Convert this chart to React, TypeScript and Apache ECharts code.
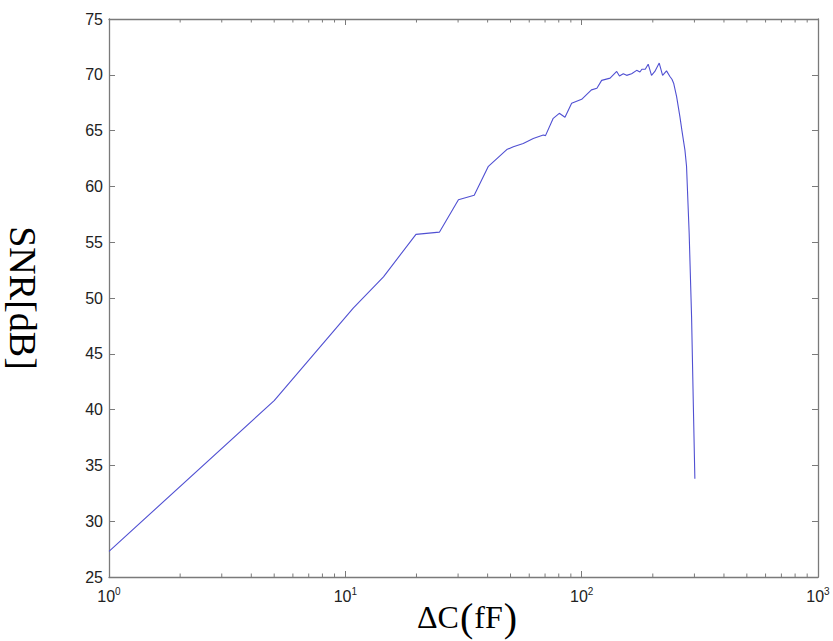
import React, { useEffect, useRef } from "react";
import * as echarts from "echarts";

const deltaC = [
  1, 5, 10.8, 14.5, 19.9, 25, 30.1, 35.1, 40.3, 48.2, 51.4, 56.6, 62.4, 68.8, 70.3,
  75.8, 80.4, 85, 90.7, 100, 110, 116, 121.5, 131.9, 140.7, 144.5, 150, 155, 162.7,
  170.9, 176.4, 179.8, 185.8, 191.2, 197.5, 204, 212.9, 220, 228.6, 236.3, 241, 245,
  252.2, 260.4, 265.4, 273.5, 277.8, 285, 291.8, 296.5, 301.3,
];
const snr = [
  27.3, 40.8, 49.1, 51.9, 55.7, 55.9, 58.8, 59.2, 61.8, 63.3, 63.55, 63.85, 64.3, 64.6, 64.55,
  66.1, 66.55, 66.2, 67.45, 67.8, 68.65, 68.8, 69.5, 69.7, 70.3, 69.9, 70.1, 69.95, 70.1,
  70.4, 70.25, 70.5, 70.5, 70.95, 69.95, 70.3, 71.05, 69.95, 70.35, 69.85, 69.6, 69.25,
  68.05, 66.25, 65.05, 63.25, 61.8, 55.8, 48.3, 40.9, 33.8,
];
const minorTicks = [2, 3, 4, 5, 6, 7, 8, 9, 20, 30, 40, 50, 60, 70, 80, 90, 200, 300, 400, 500, 600, 700, 800, 900];
const xMin = 1;
const xMax = 1000;
const yMin = 25;
const yMax = 75;
const yStep = 5;

const AXIS = "#7a7a7a";
const SERIF = "'Liberation Serif', 'Times New Roman', serif";
const SANS = "'Liberation Sans', Arial, sans-serif";

export default function App() {
  const ref = useRef<HTMLDivElement>(null);
  useEffect(() => {
    const chart = echarts.init(ref.current!, null, { renderer: "svg" });
    const lineData = deltaC.map((x, i) => [x, snr[i]]);
    chart.setOption({
      animation: false,
      backgroundColor: "#ffffff",
      grid: { left: 109, right: 15, top: 19, bottom: 64, containLabel: false, outerBoundsMode: "none" },
      xAxis: [
        {
          type: "log",
          logBase: 10,
          min: xMin,
          max: xMax,
          position: "bottom",
          name: "{t|ΔC}{p|(}{t|fF}{p|)}",
          nameLocation: "middle",
          nameGap: 20,
          nameMoveOverlap: false,
          nameTextStyle: {
            padding: [0, 0, 0, 8],
            rich: {
              t: { fontFamily: SERIF, fontSize: 32, color: "#000" },
              p: { fontFamily: SERIF, fontSize: 40, color: "#000", padding: [0, 1, 0, 1] },
            },
          },
          axisLine: { show: true, lineStyle: { color: AXIS, width: 1.3 } },
          axisTick: { show: true, inside: true, length: 6, lineStyle: { color: AXIS } },
          splitLine: { show: false },
          axisLabel: {
            margin: 9,
            formatter: (v: number) => `{b|10}{s|${Math.round(Math.log10(v))}}`,
            rich: {
              b: { fontFamily: SANS, fontSize: 16, color: "#222" },
              s: { fontFamily: SANS, fontSize: 10, color: "#222", verticalAlign: "top", padding: [0, 0, 11, 0] },
            },
          },
        },
        {
          type: "log",
          logBase: 10,
          min: xMin,
          max: xMax,
          position: "top",
          axisLine: { show: true, lineStyle: { color: AXIS, width: 1.3 } },
          axisTick: { show: true, inside: true, length: 6, lineStyle: { color: AXIS } },
          axisLabel: { show: false },
          splitLine: { show: false },
        },
      ],
      yAxis: [
        {
          type: "value",
          min: yMin,
          max: yMax,
          interval: yStep,
          position: "left",
          name: "SNR[dB]",
          nameLocation: "middle",
          nameRotate: -90,
          nameGap: 67,
          nameTextStyle: { fontFamily: SERIF, fontSize: 38, color: "#000" },
          axisLine: { show: true, lineStyle: { color: AXIS, width: 1.3 } },
          axisTick: { show: true, inside: true, length: 6, lineStyle: { color: AXIS } },
          splitLine: { show: false },
          axisLabel: { margin: 6, fontFamily: SANS, fontSize: 16, color: "#222" },
        },
        {
          type: "value",
          min: yMin,
          max: yMax,
          interval: yStep,
          position: "right",
          axisLine: { show: true, lineStyle: { color: AXIS, width: 1.3 } },
          axisTick: { show: true, inside: true, length: 6, lineStyle: { color: AXIS } },
          axisLabel: { show: false },
          splitLine: { show: false },
        },
      ],
      series: [
        {
          type: "custom",
          xAxisIndex: 0,
          yAxisIndex: 0,
          silent: true,
          data: minorTicks.map((v) => [v, yMin]),
          encode: { x: 0, y: 1 },
          renderItem: (_p: any, api: any) => {
            const v = api.value(0);
            const b = api.coord([v, yMin]);
            const t = api.coord([v, yMax]);
            const st = { stroke: AXIS, lineWidth: 1 };
            return {
              type: "group",
              children: [
                { type: "line", shape: { x1: b[0], y1: b[1], x2: b[0], y2: b[1] - 3.5 }, style: st },
                { type: "line", shape: { x1: t[0], y1: t[1], x2: t[0], y2: t[1] + 3.5 }, style: st },
              ],
            };
          },
        },
        {
          type: "line",
          xAxisIndex: 0,
          yAxisIndex: 0,
          data: lineData,
          showSymbol: false,
          symbol: "none",
          lineStyle: { color: "#5050d2", width: 1.1 },
        },
      ],
    });
    return () => chart.dispose();
  }, []);
  return (
    <div
      ref={ref}
      style={{ position: "fixed", left: 0, top: 0, width: 833, height: 641, background: "#fff" }}
    />
  );
}
